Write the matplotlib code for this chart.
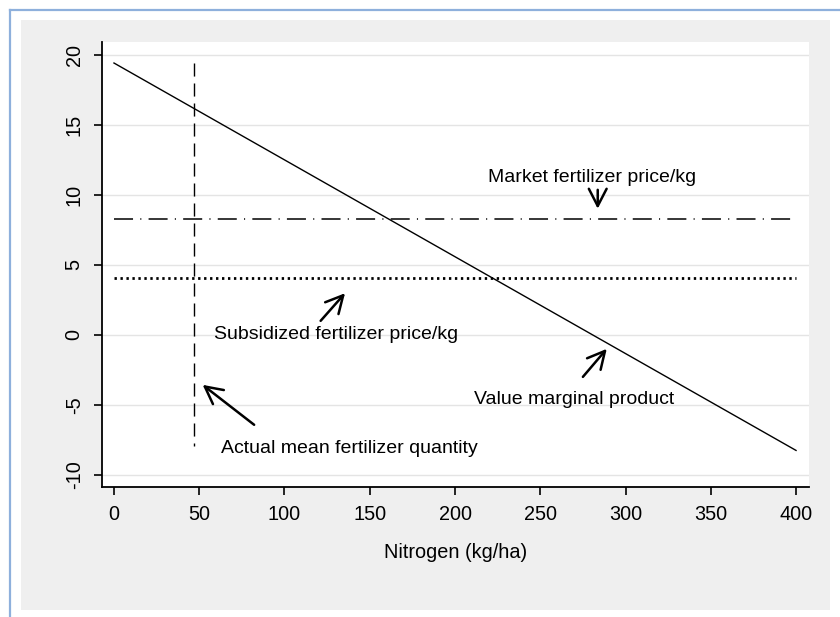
import matplotlib
matplotlib.use("Agg")
import matplotlib.pyplot as plt
from matplotlib.patches import Rectangle
from matplotlib.lines import Line2D

plt.rcParams['font.family'] = ['Liberation Sans', 'DejaVu Sans']
plt.rcParams['lines.scale_dashes'] = False
plt.rcParams['axes.unicode_minus'] = False

# value marginal product of nitrogen (straight line between the end points)
nitrogen = [0, 400]
vmp = [19.4, -8.25]

market_price = 8.27
subsidized_price = 4.05
mean_quantity = 46.7
mean_line_y = [19.4, -7.9]

xticks = [0, 50, 100, 150, 200, 250, 300, 350, 400]
yticks = [-10, -5, 0, 5, 10, 15, 20]

# (text, text position, arrow tail, arrow head)
notes = [
    ("Market fertilizer price/kg", (280.5, 11.2), (283.7, 10.35), (283.7, 9.0)),
    ("Subsidized fertilizer price/kg", (130, 0.0), (121.2, 1.0), (135.5, 2.97)),
    ("Value marginal product", (270, -4.64), (275, -3.0), (289, -1.0)),
    ("Actual mean fertilizer quantity", (137.8, -8.13), (82.2, -6.42), (52, -3.57)),
]

fig = plt.figure(figsize=(8.4, 6.17), dpi=100)
fig.patch.set_facecolor("white")

# grey graph region and the thin blue frame around it
fig.patches.append(Rectangle((21 / 840, 1 - 610 / 617), 809 / 840, 590 / 617,
                             transform=fig.transFigure, facecolor="#efefef",
                             edgecolor="none", zorder=-2))
fig.lines.append(Line2D([10 / 840, 10 / 840], [0, 1 - 10 / 617],
                        transform=fig.transFigure, color="#8eb0dc", lw=1.6,
                        zorder=-1))
fig.lines.append(Line2D([10 / 840, 1], [1 - 10 / 617, 1 - 10 / 617],
                        transform=fig.transFigure, color="#8eb0dc", lw=1.6,
                        zorder=-1))

ax = fig.add_axes([101.7 / 840, 1 - 487 / 617, (809 - 101.7) / 840, (487 - 42) / 617])
ax.set_facecolor("white")

ax.plot(nitrogen, vmp, color="black", lw=1.0)
ax.plot([mean_quantity, mean_quantity], mean_line_y, color="black", lw=1.0,
        dashes=(9.4, 5.0))
ax.plot(nitrogen, [market_price, market_price], color="black", lw=1.1,
        dashes=(13.7, 5.2, 0.8, 5.2))
ax.plot(nitrogen, [subsidized_price, subsidized_price], color="black", lw=2.0,
        dashes=(1.7, 2.6))

for text, pos, tail, head in notes:
    ax.text(pos[0], pos[1], text, ha="center", va="center", fontsize=14)
    ax.annotate("", xy=head, xytext=tail,
                arrowprops=dict(arrowstyle="->,head_length=0.62,head_width=0.32",
                                lw=1.8, color="black", mutation_scale=20,
                                shrinkA=0, shrinkB=0))

ax.set_xlim(-7.2, 407.6)
ax.set_ylim(-10.86, 20.9)
ax.set_xticks(xticks)
ax.set_yticks(yticks)
ax.tick_params(axis="both", length=6, width=1.2, labelsize=14.3, pad=7)
ax.tick_params(axis="y", labelrotation=90)
for lab in ax.get_yticklabels():
    lab.set_verticalalignment("center")
ax.grid(axis="y", color="#e4e4e4", lw=1.0)
ax.set_axisbelow(True)
for side in ["top", "right"]:
    ax.spines[side].set_visible(False)
for side in ["left", "bottom"]:
    ax.spines[side].set_linewidth(1.3)

ax.set_xlabel("Nitrogen (kg/ha)", fontsize=14.3, labelpad=14)

fig.savefig("out.png", dpi=100, facecolor=fig.get_facecolor())
